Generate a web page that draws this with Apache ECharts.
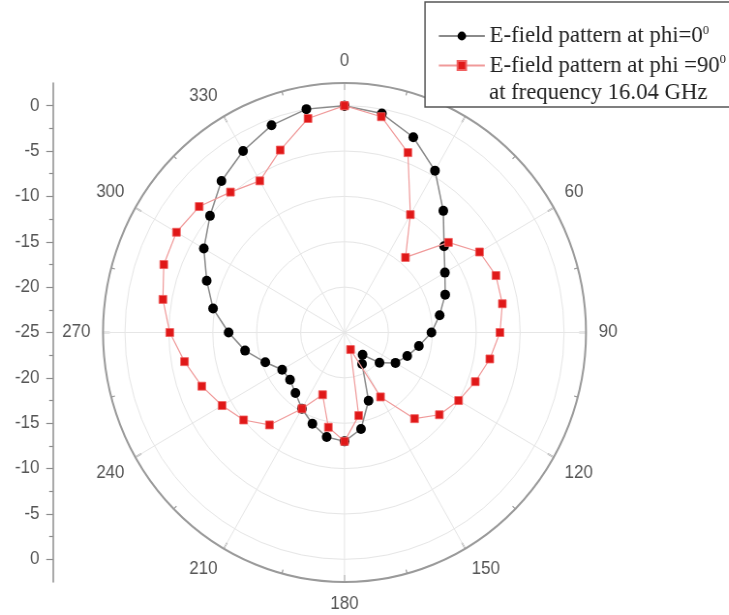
<!DOCTYPE html>
<html>
<head>
<meta charset="utf-8">
<script src="https://cdn.jsdelivr.net/npm/echarts@6/dist/echarts.min.js"></script>
<style>
  html, body { margin: 0; padding: 0; background: #fff; overflow: hidden; }
  #frame { width: 729px; height: 615px; overflow: hidden; position: relative; }
  #chart { position: absolute; left: 0; top: 0; height: 615px; transform-origin: 0 0; }
</style>
</head>
<body>
<div id="frame"><div id="chart"></div></div>
<script>
// Measurement angles (degrees, clockwise from top)
const angles = [0, 10, 20, 30, 40, 50, 60, 70, 80, 90, 100, 110, 120, 130, 140, 150, 160, 170,
                180, 190, 200, 210, 220, 230, 240, 250, 260, 270, 280, 290, 300, 310, 320, 330, 340, 350];

// Normalised E-field (dB), phi = 0 deg cut
const ePhi0 = [0, -0.5, -2.1, -4.4, -7.5, -10.2, -11.8, -12.8, -14.0, -15.1, -16.4, -17.4, -18.3, -19.8, -21.8, -21.0, -17.0, -14.2,
               -13.0, -13.3, -14.3, -15.3, -16.3, -16.9, -16.8, -15.4, -13.5, -11.8, -9.8, -8.3, -6.5, -5.0, -3.2, -1.9, -0.7, 0.0];

// Normalised E-field (dB), phi = 90 deg cut
const ePhi90 = [0, -0.85, -3.9, -10.0, -14.2, -9.55, -7.25, -6.65, -6.75, -7.3, -8.2, -9.15, -10.0, -10.9, -12.6, -16.8, -23.0, -15.7,
                -13.0, -14.4, -17.7, -15.3, -11.7, -10.0, -8.9, -7.7, -6.5, -5.1, -4.0, -3.1, -2.9, -3.4, -4.8, -5.7, -3.6, -1.05];

// Radial scale (dB): centre value, outer ring value, grid step
const radialMin = -25;
const radialMax = 2.5;
const radialStep = 5;

// Mirrored dB ruler on the left: positions along the diameter (0 = centre)
const rulerMajor = [-25, -20, -15, -10, -5, 0, 5, 10, 15, 20, 25];
const rulerMinor = [-22.5, -17.5, -12.5, -7.5, -2.5, 2.5, 7.5, 12.5, 17.5, 22.5];

const seriesNames = ['E-field pattern at phi=0', 'E-field pattern at phi =90'];
const noteText = 'at frequency 16.04 GHz';

// Closed polar loops: [radius, angle] pairs, first point repeated at 360
function loop(values) {
  const pts = angles.map((a, i) => [values[i], a]);
  pts.push([values[0], 360]);
  return pts;
}

// The plot is drawn slightly narrower than tall: the canvas is squeezed horizontally
const squeeze = 241.5 / 249.5;
const pageW = 729;
const el = document.getElementById('chart');
el.style.width = (pageW / squeeze) + 'px';
el.style.transform = 'scaleX(' + squeeze + ')';
const X = x => x / squeeze;   // page x -> canvas x

const cx = X(344.5), cy = 332.5, R = 249.5;
const labelColor = '#555';
const sans = 'Liberation Sans, Arial, sans-serif';
const serif = 'Liberation Serif, Times New Roman, serif';

const chart = echarts.init(el);
chart.setOption({
  animation: false,
  backgroundColor: '#fff',
  polar: { center: [cx, cy], radius: R },
  angleAxis: {
    type: 'value',
    min: 0, max: 360, interval: 30,
    startAngle: 90, clockwise: true,
    axisLine: { lineStyle: { color: '#9a9a9a', width: 2 } },
    axisTick: { show: true, inside: true, length: 7, lineStyle: { color: '#9a9a9a', width: 1.5 } },
    minorTick: { show: true, splitNumber: 2, length: 4, lineStyle: { color: '#9a9a9a', width: 1.2 } },
    splitLine: { show: true, lineStyle: { color: '#e6e6e6', width: 1 } },
    axisLabel: { margin: 13, fontSize: 17.5, color: labelColor, fontFamily: sans }
  },
  radiusAxis: {
    type: 'value',
    min: radialMin, max: radialMax, interval: radialStep,
    axisLine: { show: false },
    axisTick: { show: false },
    axisLabel: { show: false },
    splitLine: { show: true, lineStyle: { color: '#e6e6e6', width: 1 } }
  },
  grid: { left: X(53), top: cy - R, width: 20, height: 2 * R },
  xAxis: { type: 'value', show: false },
  yAxis: [
    {
      type: 'value', position: 'left',
      min: -(Math.abs(radialMin) + radialMax), max: Math.abs(radialMin) + radialMax,
      axisLine: { show: true, lineStyle: { color: '#8c8c8c', width: 1.5 } },
      axisTick: { show: true, length: 7, customValues: rulerMajor, lineStyle: { color: '#8c8c8c', width: 1.2 } },
      axisLabel: {
        customValues: rulerMajor, margin: 14, fontSize: 17.5, color: labelColor, fontFamily: sans,
        formatter: v => String(Math.abs(v) + radialMin)
      },
      splitLine: { show: false }
    },
    {
      type: 'value', position: 'left',
      min: -(Math.abs(radialMin) + radialMax), max: Math.abs(radialMin) + radialMax,
      axisLine: { show: false },
      axisTick: { show: true, length: 4, customValues: rulerMinor, lineStyle: { color: '#8c8c8c', width: 1.2 } },
      axisLabel: { show: false },
      splitLine: { show: false }
    }
  ],
  legend: {
    orient: 'vertical',
    left: X(433), top: 19,
    itemWidth: X(46), itemHeight: 11, itemGap: 5.5,
    z: 60,
    data: seriesNames,
    formatter: n => n + '{s|0}',
    textStyle: {
      fontFamily: serif, fontSize: 23.5, color: '#222',
      rich: { s: { fontFamily: serif, fontSize: 13, color: '#222', verticalAlign: 'top' } }
    }
  },
  graphic: [
    {
      type: 'rect', z: 50,
      shape: { x: X(425), y: 2, width: X(330), height: 105 },
      style: { fill: '#fff', stroke: '#555', lineWidth: 1.5 }
    },
    {
      type: 'text', z: 61, x: X(489), y: 93,
      style: { text: noteText, font: '23.5px ' + serif, fill: '#222', verticalAlign: 'middle' }
    }
  ],
  series: [
    {
      name: seriesNames[0], type: 'line', coordinateSystem: 'polar',
      data: loop(ePhi0),
      symbol: 'circle', symbolSize: 10,
      itemStyle: { color: '#000' },
      lineStyle: { color: '#8a8a8a', width: 1.5 },
      z: 3
    },
    {
      name: seriesNames[1], type: 'line', coordinateSystem: 'polar',
      data: loop(ePhi90),
      symbol: 'rect', symbolSize: 8,
      itemStyle: { color: '#e01818', borderColor: '#f06060', borderWidth: 0.8 },
      lineStyle: { color: '#f09a9a', width: 1.2 },
      z: 4
    }
  ]
});
</script>
</body>
</html>
